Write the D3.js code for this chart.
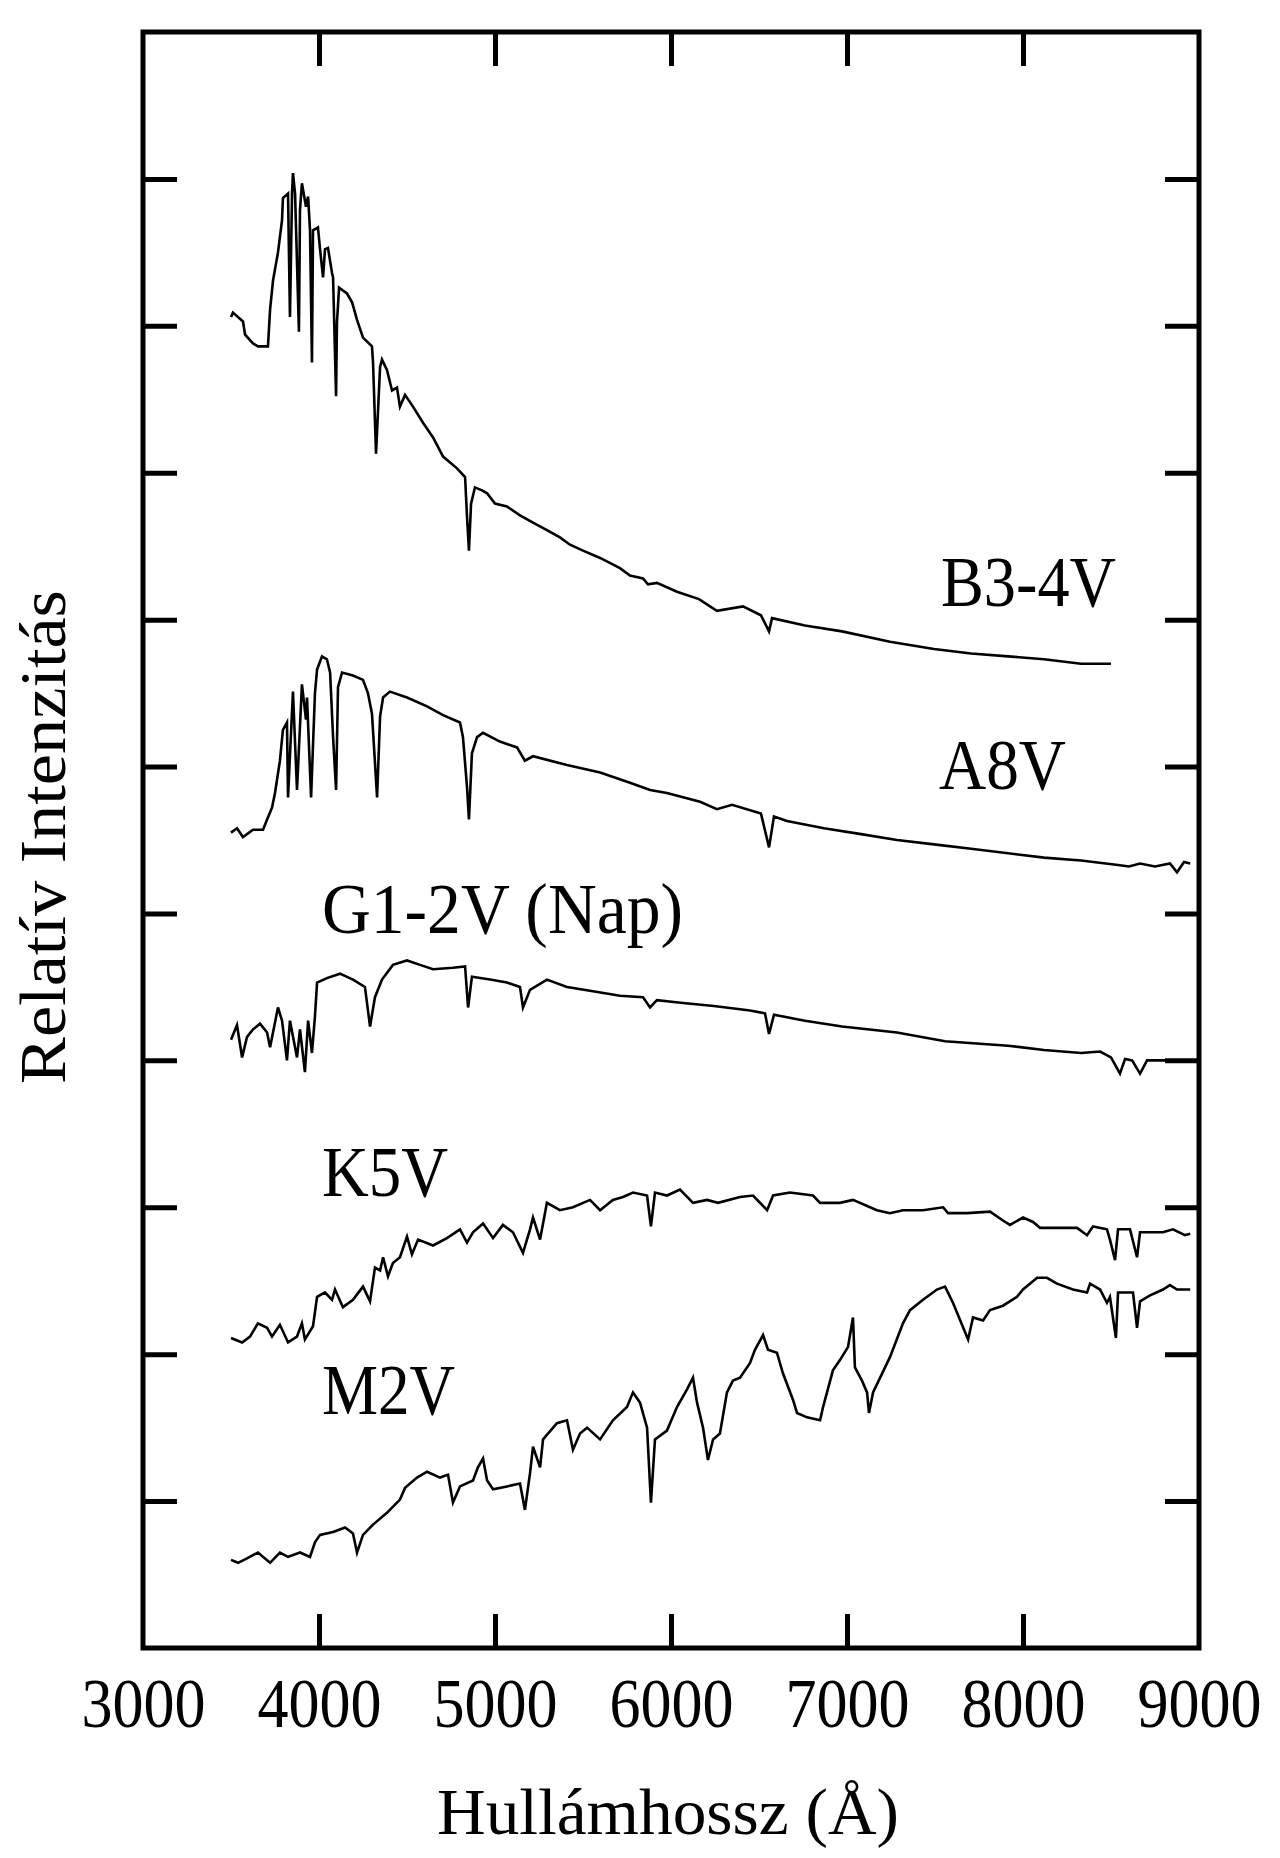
<!DOCTYPE html>
<html>
<head>
<meta charset="utf-8">
<script src="https://cdn.jsdelivr.net/npm/d3@7"></script>
<style>
  body { margin: 0; background: #fff; }
  svg { display: block; }
  text { font-family: "Liberation Serif", "DejaVu Serif", serif; fill: #000; }
</style>
</head>
<body>
<div id="chart"></div>
<script>
// wavelength ticks (Angstrom) and the unlabelled intensity ticks
const xTicks = [3000, 4000, 5000, 6000, 7000, 8000, 9000];
const yTicks = [1, 2, 3, 4, 5, 6, 7, 8, 9, 10];

const xTitle = 'Hullámhossz (Å)';
const yTitle = 'Relatív Intenzitás';

// spectra, [wavelength, relative intensity] (already shifted for stacking)
const b34v = [[3500,9.06],[3511,9.09],[3568,9.03],[3580,8.94],[3625,8.88],[3653,8.86],[3710,8.86],[3722,9.11],[3739,9.31],[3767,9.50],[3790,9.72],[3795,9.87],[3824,9.90],[3835,9.06],[3847,9.91],[3852,10.04],[3864,9.90],[3886,8.96],[3892,9.79],[3903,9.97],[3926,9.81],[3938,9.88],[3949,9.65],[3960,8.75],[3966,9.65],[3994,9.67],[4006,9.52],[4023,9.33],[4034,9.52],[4051,9.53],[4074,9.36],[4080,9.33],[4097,8.52],[4102,9.02],[4114,9.26],[4159,9.22],[4188,9.16],[4216,9.04],[4250,8.92],[4301,8.86],[4307,8.75],[4324,8.13],[4347,8.72],[4358,8.77],[4386,8.70],[4415,8.56],[4443,8.58],[4460,8.45],[4489,8.53],[4534,8.45],[4591,8.34],[4648,8.24],[4705,8.11],[4784,8.03],[4830,7.97],[4841,7.70],[4852,7.47],[4864,7.79],[4886,7.90],[4926,7.88],[4955,7.86],[5000,7.79],[5068,7.77],[5142,7.71],[5216,7.66],[5295,7.61],[5369,7.56],[5426,7.51],[5500,7.47],[5597,7.42],[5710,7.35],[5767,7.30],[5841,7.28],[5869,7.24],[5920,7.25],[6034,7.19],[6159,7.14],[6261,7.06],[6409,7.09],[6511,7.03],[6557,6.92],[6574,7.01],[6761,6.96],[6972,6.92],[7244,6.85],[7494,6.80],[7705,6.77],[7915,6.75],[8119,6.73],[8330,6.70],[8500,6.70]];

const a8v = [[3500,5.55],[3534,5.58],[3568,5.52],[3625,5.57],[3682,5.57],[3705,5.64],[3733,5.72],[3750,5.82],[3778,6.04],[3795,6.25],[3818,6.30],[3824,5.79],[3852,6.51],[3875,5.84],[3903,6.56],[3926,6.32],[3932,6.47],[3955,5.79],[3977,6.50],[3989,6.66],[4017,6.75],[4045,6.73],[4063,6.64],[4080,6.20],[4097,5.84],[4108,6.54],[4131,6.64],[4193,6.62],[4250,6.59],[4278,6.50],[4301,6.36],[4330,5.79],[4347,6.34],[4364,6.47],[4403,6.51],[4500,6.47],[4614,6.41],[4705,6.35],[4801,6.30],[4818,6.20],[4841,5.86],[4852,5.64],[4869,6.09],[4898,6.20],[4932,6.23],[5028,6.17],[5125,6.13],[5170,6.04],[5216,6.07],[5409,6.01],[5597,5.96],[5767,5.89],[5881,5.84],[5977,5.82],[6165,5.76],[6261,5.71],[6347,5.74],[6511,5.68],[6557,5.45],[6585,5.66],[6659,5.63],[6869,5.58],[7080,5.54],[7284,5.50],[7494,5.47],[7705,5.44],[7915,5.41],[8119,5.38],[8330,5.36],[8540,5.33],[8602,5.32],[8665,5.34],[8750,5.32],[8835,5.34],[8875,5.28],[8915,5.35],[8950,5.34]];

const g12v = [[3500,4.14],[3534,4.24],[3563,4.02],[3591,4.16],[3625,4.21],[3665,4.25],[3705,4.19],[3722,4.09],[3767,4.36],[3790,4.27],[3818,4.00],[3835,4.27],[3875,4.02],[3892,4.21],[3920,3.92],[3938,4.27],[3960,4.05],[3977,4.30],[3989,4.53],[4045,4.56],[4119,4.59],[4193,4.55],[4261,4.50],[4290,4.23],[4318,4.43],[4358,4.55],[4420,4.65],[4500,4.68],[4574,4.65],[4648,4.62],[4761,4.63],[4830,4.64],[4847,4.36],[4869,4.57],[4972,4.55],[5068,4.53],[5142,4.50],[5159,4.36],[5199,4.48],[5295,4.55],[5409,4.50],[5557,4.47],[5710,4.44],[5841,4.43],[5881,4.36],[5920,4.41],[6068,4.39],[6244,4.37],[6449,4.34],[6534,4.32],[6557,4.18],[6585,4.31],[6761,4.27],[6972,4.23],[7284,4.19],[7557,4.13],[7915,4.10],[8119,4.07],[8330,4.05],[8438,4.06],[8500,4.02],[8551,3.91],[8580,4.01],[8620,4.00],[8665,3.91],[8705,4.00],[8830,4.00],[8955,4.00]];

const k5v = [[3500,2.11],[3563,2.08],[3608,2.12],[3653,2.21],[3705,2.18],[3733,2.12],[3778,2.20],[3824,2.08],[3875,2.12],[3903,2.21],[3920,2.10],[3966,2.19],[3989,2.39],[4034,2.42],[4074,2.37],[4091,2.44],[4136,2.32],[4193,2.37],[4250,2.46],[4290,2.36],[4318,2.59],[4347,2.57],[4364,2.66],[4392,2.53],[4420,2.62],[4460,2.66],[4500,2.80],[4528,2.68],[4563,2.78],[4648,2.74],[4727,2.79],[4801,2.85],[4841,2.76],[4875,2.83],[4932,2.89],[4989,2.79],[5045,2.88],[5102,2.83],[5159,2.69],[5199,2.85],[5216,2.93],[5256,2.78],[5295,3.03],[5369,2.98],[5443,3.00],[5540,3.05],[5597,2.98],[5670,3.05],[5727,3.07],[5784,3.10],[5864,3.08],[5886,2.87],[5909,3.10],[5977,3.08],[6051,3.12],[6125,3.03],[6205,3.05],[6267,3.03],[6392,3.07],[6466,3.08],[6546,2.98],[6580,3.08],[6676,3.10],[6807,3.08],[6847,3.03],[6960,3.03],[7034,3.05],[7170,2.98],[7244,2.96],[7318,2.98],[7432,2.98],[7546,3.00],[7574,2.96],[7682,2.96],[7813,2.97],[7886,2.91],[7926,2.88],[8000,2.93],[8057,2.90],[8097,2.86],[8307,2.86],[8364,2.81],[8398,2.87],[8477,2.85],[8494,2.78],[8523,2.64],[8540,2.85],[8608,2.85],[8648,2.66],[8665,2.83],[8795,2.83],[8852,2.85],[8920,2.81],[8950,2.82]];

const m2v = [[3500,0.60],[3540,0.58],[3591,0.61],[3653,0.65],[3722,0.58],[3778,0.65],[3824,0.62],[3892,0.65],[3949,0.62],[3977,0.72],[4006,0.77],[4080,0.79],[4148,0.82],[4193,0.78],[4216,0.65],[4250,0.77],[4307,0.84],[4386,0.92],[4460,1.01],[4489,1.09],[4557,1.16],[4614,1.20],[4688,1.16],[4733,1.18],[4761,0.99],[4801,1.10],[4875,1.14],[4903,1.23],[4932,1.29],[4955,1.14],[4989,1.08],[5068,1.10],[5142,1.12],[5170,0.94],[5199,1.19],[5216,1.37],[5256,1.23],[5273,1.42],[5352,1.53],[5409,1.55],[5443,1.35],[5483,1.46],[5523,1.50],[5597,1.42],[5670,1.55],[5750,1.64],[5784,1.74],[5824,1.67],[5864,1.50],[5886,0.99],[5909,1.42],[5977,1.48],[6034,1.64],[6091,1.76],[6125,1.84],[6148,1.67],[6182,1.50],[6210,1.28],[6239,1.42],[6278,1.46],[6318,1.74],[6352,1.82],[6392,1.84],[6449,1.94],[6477,2.03],[6523,2.13],[6551,2.03],[6602,2.01],[6636,1.87],[6693,1.69],[6716,1.60],[6773,1.57],[6847,1.55],[6864,1.64],[6920,1.89],[6960,1.96],[7006,2.05],[7034,2.25],[7045,1.91],[7085,1.82],[7114,1.74],[7125,1.60],[7148,1.74],[7244,1.98],[7318,2.21],[7358,2.30],[7432,2.37],[7511,2.44],[7557,2.46],[7602,2.35],[7688,2.10],[7716,2.25],[7773,2.23],[7813,2.30],[7886,2.33],[7966,2.39],[8000,2.44],[8080,2.52],[8136,2.52],[8193,2.48],[8284,2.44],[8364,2.42],[8381,2.48],[8438,2.44],[8477,2.35],[8494,2.39],[8528,2.11],[8540,2.42],[8625,2.42],[8648,2.18],[8665,2.36],[8722,2.40],[8795,2.44],[8835,2.47],[8875,2.44],[8950,2.44]];

const spectra = [b34v, a8v, g12v, k5v, m2v];
const names = ['B3-4V', 'A8V', 'G1-2V (Nap)', 'K5V', 'M2V'];

const width = 1280
    , height = 1858
    , margin = {top: 32, right: 81, bottom: 210, left: 143}
    , tickLen = 34
    ;

// where each name sits, in data units, and how wide the reference set it
const labelAt = [[7534, 7.09, 175], [7523, 5.85, 127], [4017, 4.87, 361], [4017, 3.08, 126], [4017, 1.59, 133]];

const x = d3.scaleLinear()
  .domain([3000, 9000])
  .range([margin.left, width - margin.right]);

const y = d3.scaleLinear()
  .domain([0, 11])
  .range([height - margin.bottom, margin.top]);

const svg = d3.select('#chart')
  .append('svg')
  .attr('width', width)
  .attr('height', height)
  .style('background', '#fff');

const inner = xTicks.slice(1, -1);

// bottom axis: inward ticks + big labels
const gx = svg.append('g')
  .attr('transform', `translate(0,${y.range()[0]})`)
  .call(d3.axisBottom(x).tickValues(xTicks).tickSize(-tickLen).tickPadding(0).tickFormat(d3.format('d')));
gx.select('.domain').remove();
gx.selectAll('line')
  .attr('stroke', '#000')
  .attr('stroke-width', 5)
  .style('display', d => inner.includes(d) ? null : 'none');
gx.selectAll('text')
  .attr('y', 79)
  .attr('dy', 0)
  .attr('font-size', 70)
  .attr('textLength', 124)
  .attr('lengthAdjust', 'spacingAndGlyphs')
  .attr('font-family', null);

// top axis: ticks only
svg.append('g')
  .attr('transform', `translate(0,${y.range()[1]})`)
  .call(d3.axisTop(x).tickValues(inner).tickSize(-tickLen).tickFormat(''))
  .call(g => g.select('.domain').remove())
  .selectAll('line').attr('stroke', '#000').attr('stroke-width', 5);

// left / right: ticks only
svg.append('g')
  .attr('transform', `translate(${x.range()[0]},0)`)
  .call(d3.axisLeft(y).tickValues(yTicks).tickSize(-tickLen).tickFormat(''))
  .call(g => g.select('.domain').remove())
  .selectAll('line').attr('stroke', '#000').attr('stroke-width', 5);

svg.append('g')
  .attr('transform', `translate(${x.range()[1]},0)`)
  .call(d3.axisRight(y).tickValues(yTicks).tickSize(-tickLen).tickFormat(''))
  .call(g => g.select('.domain').remove())
  .selectAll('line').attr('stroke', '#000').attr('stroke-width', 5);

// frame
svg.append('rect')
  .attr('x', x.range()[0])
  .attr('y', y.range()[1])
  .attr('width', x.range()[1] - x.range()[0])
  .attr('height', y.range()[0] - y.range()[1])
  .attr('fill', 'none')
  .attr('stroke', '#000')
  .attr('stroke-width', 5);

const line = d3.line()
  .x(d => x(d[0]))
  .y(d => y(d[1]));

svg.append('g')
  .selectAll('path')
  .data(spectra)
  .join('path')
    .attr('d', line)
    .attr('fill', 'none')
    .attr('stroke', '#000')
    .attr('stroke-width', 2.6)
    .attr('stroke-linejoin', 'miter');

svg.append('g')
  .selectAll('text')
  .data(names)
  .join('text')
    .attr('x', (d, i) => x(labelAt[i][0]))
    .attr('y', (d, i) => y(labelAt[i][1]))
    .attr('font-size', 71)
    .attr('textLength', (d, i) => labelAt[i][2])
    .attr('lengthAdjust', 'spacingAndGlyphs')
    .text(d => d);

svg.append('text')
  .attr('x', 668)
  .attr('y', 1834)
  .attr('text-anchor', 'middle')
  .attr('font-size', 66)
  .attr('textLength', 462)
  .attr('lengthAdjust', 'spacingAndGlyphs')
  .text(xTitle);

svg.append('text')
  .attr('transform', 'translate(65,837) rotate(-90)')
  .attr('text-anchor', 'middle')
  .attr('font-size', 66)
  .attr('textLength', 494)
  .attr('lengthAdjust', 'spacingAndGlyphs')
  .text(yTitle);
</script>
</body>
</html>
